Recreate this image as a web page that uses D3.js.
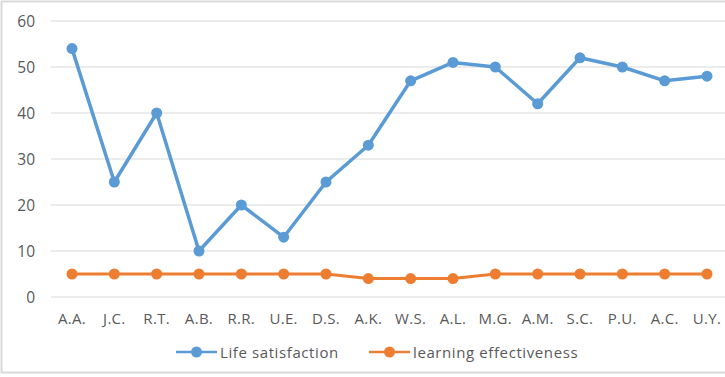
<!DOCTYPE html>
<html>
<head>
<meta charset="utf-8">
<script src="https://cdn.jsdelivr.net/npm/d3@7"></script>
<style>
  body { margin: 0; background: #fff; }
  text { font-family: "Open Sans", "Liberation Sans", sans-serif; fill: #595959; }
</style>
</head>
<body>
<svg id="chart" width="725" height="377"></svg>
<script>
const categories = ['A.A.', 'J.C.', 'R.T.', 'A.B.', 'R.R.', 'U.E.', 'D.S.', 'A.K.', 'W.S.', 'A.L.', 'M.G.', 'A.M.', 'S.C.', 'P.U.', 'A.C.', 'U.Y.']
const lifeSatisfaction = [54, 25, 40, 10, 20, 13, 25, 33, 47, 51, 50, 42, 52, 50, 47, 48]
const learningEffectiveness = [5, 5, 5, 5, 5, 5, 5, 4, 4, 4, 5, 5, 5, 5, 5, 5]
const yTicks = [0, 10, 20, 30, 40, 50, 60]

const series = [
  { name: 'Life satisfaction', values: lifeSatisfaction, color: '#5b9bd5', width: 3.5 },
  { name: 'learning effectiveness', values: learningEffectiveness, color: '#ed7d31', width: 3 }
]

const svg = d3.select('#chart')

// outer chart border
svg.append('rect')
  .attr('x', 1.5).attr('y', 1.5)
  .attr('width', 730).attr('height', 371)
  .style('fill', 'none')
  .style('stroke', '#d9d9d9')
  .style('stroke-width', 2)

const x = d3.scalePoint()
  .domain(categories)
  .range([72, 707])

const y = d3.scaleLinear()
  .domain([0, 60])
  .range([297, 21])

// gridlines
svg.append('g')
  .selectAll('line')
  .data(yTicks)
  .enter()
  .append('line')
  .attr('x1', 51)
  .attr('x2', 728)
  .attr('y1', d => y(d))
  .attr('y2', d => y(d))
  .style('stroke', '#d9d9d9')
  .style('stroke-width', 1)

// y tick labels
svg.append('g')
  .selectAll('text')
  .data(yTicks)
  .enter()
  .append('text')
  .attr('x', 35)
  .attr('y', d => y(d) + 5.5)
  .attr('text-anchor', 'end')
  .style('font-size', '15.5px')
  .text(d => d)

// x tick labels
svg.append('g')
  .selectAll('text')
  .data(categories)
  .enter()
  .append('text')
  .attr('x', d => x(d))
  .attr('y', 324)
  .attr('text-anchor', 'middle')
  .style('font-size', '15px')
  .style('letter-spacing', '0.3px')
  .text(d => d)

const line = d3.line()
  .x((d, i) => x(categories[i]))
  .y(d => y(d))

series.forEach(s => {
  const g = svg.append('g')
  g.append('path')
    .attr('d', line(s.values))
    .style('fill', 'none')
    .style('stroke', s.color)
    .style('stroke-width', s.width)
    .style('stroke-linejoin', 'round')
  g.selectAll('circle')
    .data(s.values)
    .enter()
    .append('circle')
    .attr('cx', (d, i) => x(categories[i]))
    .attr('cy', d => y(d))
    .attr('r', 5.5)
    .style('fill', s.color)
})

// legend
const legendPos = [176, 369]
series.forEach((s, i) => {
  const g = svg.append('g').attr('transform', `translate(${legendPos[i]},352)`)
  g.append('line')
    .attr('x1', 0).attr('x2', 41)
    .attr('y1', 0).attr('y2', 0)
    .style('stroke', s.color)
    .style('stroke-width', 2.5)
  g.append('circle')
    .attr('cx', 20.5).attr('cy', 0).attr('r', 5.5)
    .style('fill', s.color)
  g.append('text')
    .attr('x', 44).attr('y', 5.5)
    .style('font-size', '15px')
    .style('letter-spacing', '0.6px')
    .text(s.name)
})
</script>
</body>
</html>
